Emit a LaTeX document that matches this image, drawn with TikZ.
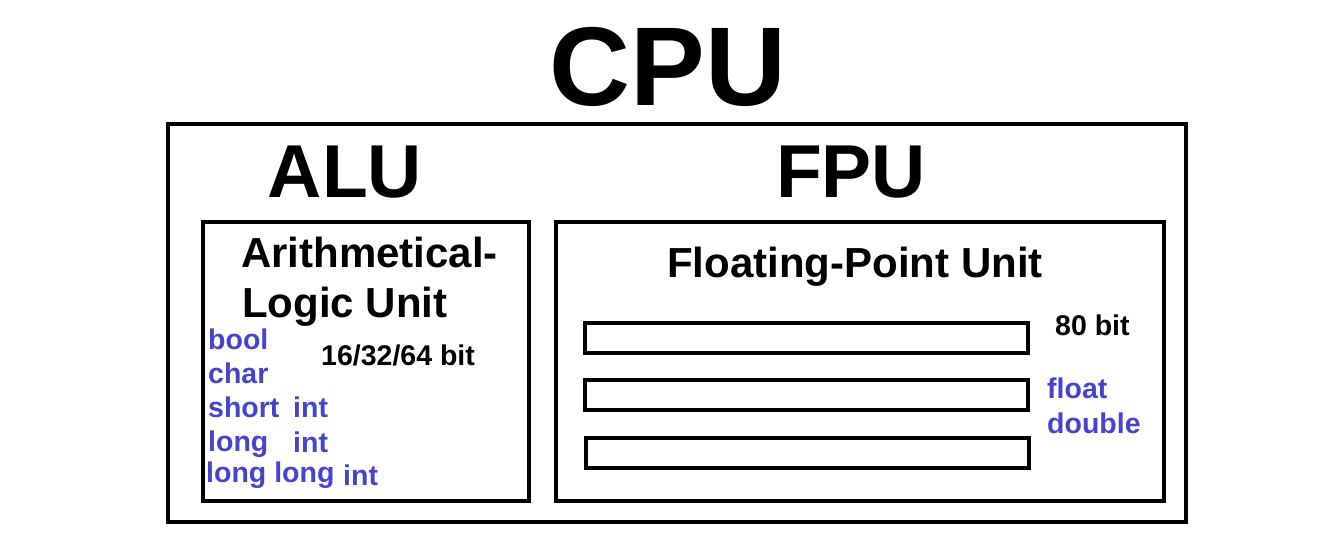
\documentclass[tikz,border=0pt]{standalone}
\usepackage{fontspec}
\setmainfont{Liberation Sans}
\begin{document}
\begin{tikzpicture}[x=1pt,y=-1pt,
  frame/.style={draw=black,line width=4.5pt,fill=none,inner sep=0pt,outer sep=0pt,anchor=north west},
  register/.style={draw=black,line width=4pt,inner sep=0pt,outer sep=0pt,anchor=north west,minimum width=443pt,minimum height=30pt},
  txt/.style={inner sep=0pt,font=\bfseries},
  title/.style={txt,anchor=base,font=\bfseries\fontsize{75}{75}\selectfont},
  head/.style={txt,font=\bfseries\fontsize{42}{50}\selectfont},
  info/.style={txt,anchor=base west,font=\bfseries\fontsize{28.5}{34}\selectfont},
  ctype/.style={info,text=typeblue}]
\definecolor{typeblue}{RGB}{68,68,204}
\useasboundingbox[fill=white] (0,0) rectangle (1343,551);

% enclosing CPU frame and its two units
\node[frame,minimum width=1018pt,minimum height=398pt] (cpu) at (168,124) {};
\node[frame,line width=4pt,minimum width=326pt,minimum height=279pt] (alu) at (203,222) {};
\node[frame,line width=4pt,minimum width=608pt,minimum height=279pt] (fpu) at (556,222) {};

% titles
\node[txt,anchor=base,font=\bfseries\fontsize{112}{112}\selectfont] (cputitle) at (668,105) {CPU};
\node[title] (alutitle) at (345,197) {ALU};
\node[title] (fputitle) at (851,197) {FPU};

% ALU contents
\node[head,anchor=base west] (alu1) at (241,267) {Arithmetical-};
\node[head,anchor=base west] (alu2) at (242,317) {Logic Unit};
\node[info] (alubits) at (321,365) {16/32/64 bit};
\node[ctype] (tbool) at (208,349) {bool};
\node[ctype] (tchar) at (208,383) {char};
\node[ctype] (tshort) at (208,417) {short};
\node[ctype] (tshortint) at (293,417) {int};
\node[ctype] (tlong) at (208,451) {long};
\node[ctype] (tlongint) at (293,452) {int};
\node[ctype] (tlonglong) at (206,482) {long long};
\node[ctype] (tlonglongint) at (343,485) {int};

% FPU contents
\node[head,anchor=base] (fpuhead) at (855,277) {Floating-Point Unit};
\node[register] (reg1) at (585,323) {};
\node[register] (reg2) at (585,380) {};
\node[register] (reg3) at (586,438) {};
\node[info] (fpubits) at (1055,335) {80 bit};
\node[ctype] (tfloat) at (1047,398) {float};
\node[ctype] (tdouble) at (1047,433) {double};
\end{tikzpicture}
\end{document}
